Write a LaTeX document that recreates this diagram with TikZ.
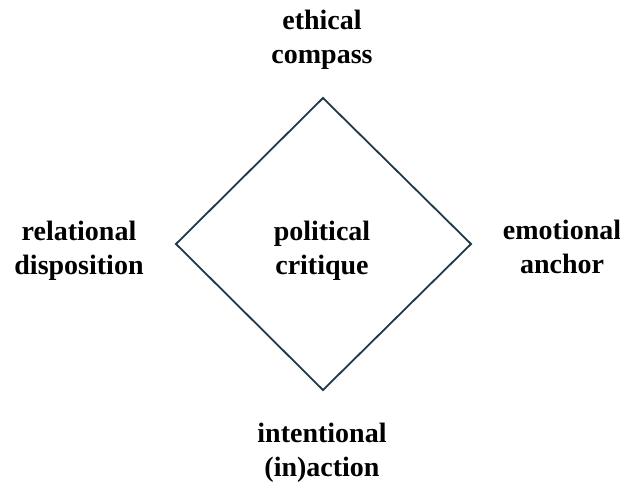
\documentclass[tikz,border=0pt]{standalone}
\usepackage{fontspec}
\setmainfont{Liberation Serif}
\begin{document}
\begin{tikzpicture}[x=1pt,y=-1pt,
  lbl/.style={inner sep=0pt, align=center, font=\fontsize{28}{34}\selectfont\bfseries},
  frame/.style={draw={rgb,255:red,31;green,56;blue,75}, line width=1.8pt, line join=miter}]
  \useasboundingbox (0,0) rectangle (620,484);
  % square standing on its corner
  \coordinate (top) at (323,98);
  \coordinate (right) at (471,244);
  \coordinate (bottom) at (323,390);
  \coordinate (left) at (176,244);
  \draw[frame] (top) -- (right) -- (bottom) -- (left) -- cycle;
  % labels
  \node[lbl] (ethic) at (322,40) {ethical\\compass};
  \node[lbl] (relat) at (79,251) {relational\\disposition};
  \node[lbl] (polit) at (322,251) {political\\critique};
  \node[lbl] (emot) at (562,247) {emotional\\anchor};
  \node[lbl] (inten) at (322,453) {intentional\\(in)action};
\end{tikzpicture}
\end{document}
